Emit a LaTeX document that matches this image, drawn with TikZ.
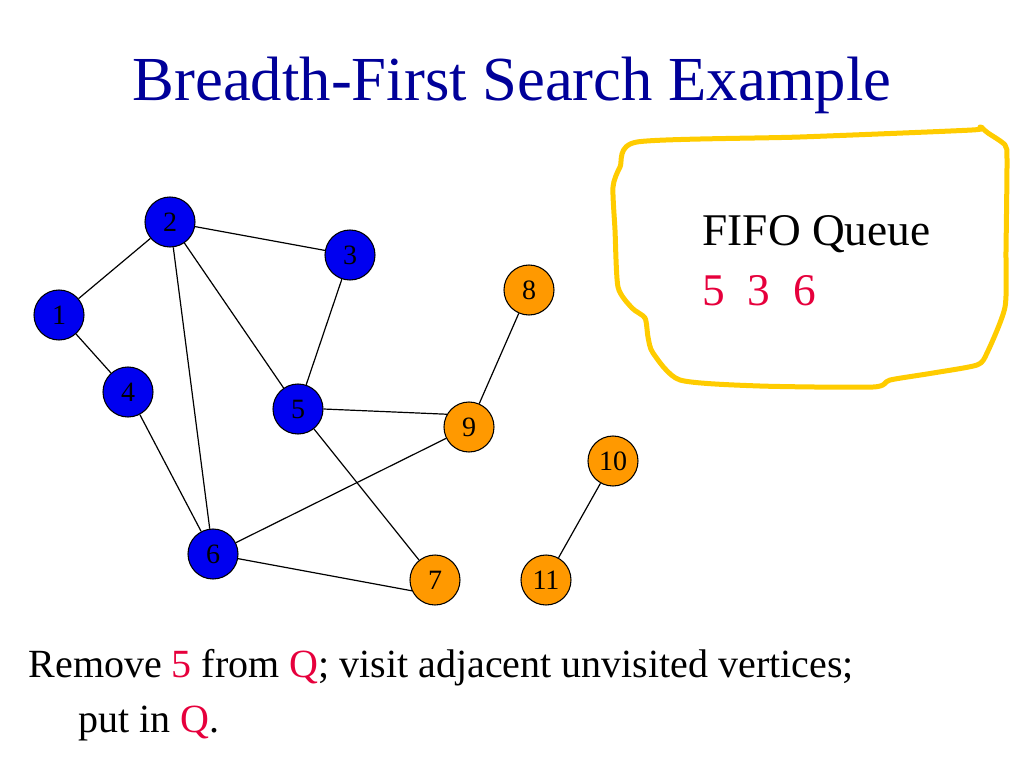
\documentclass[tikz,border=0pt]{standalone}
\usepackage{fontspec}
\setmainfont{Liberation Serif}
\definecolor{titleblue}{RGB}{0,0,153}
\definecolor{vblue}{RGB}{0,0,240}
\definecolor{vorange}{RGB}{255,153,0}
\definecolor{qred}{RGB}{230,0,60}
\definecolor{qyellow}{RGB}{255,204,0}
\begin{document}
\begin{tikzpicture}[x=0.75pt,y=-0.75pt,
  bnode/.style={circle, draw=black, line width=0.8pt, fill=vblue, minimum size=37.5pt, inner sep=0pt, font=\fontsize{21}{21}\selectfont},
  onode/.style={circle, draw=black, line width=0.8pt, fill=vorange, minimum size=37.5pt, inner sep=0pt, font=\fontsize{21}{21}\selectfont},
  every path/.append style={line width=0.9pt}]
\useasboundingbox (0,0) rectangle (1024,768);
\node[anchor=base, text=titleblue, font=\fontsize{47}{47}\selectfont] (title) at (512,100){Breadth-First Search Example};
\node[bnode] (v1) at (59,315){1};
\node[bnode] (v2) at (170,222){2};
\node[bnode] (v3) at (350,255){3};
\node[bnode] (v4) at (128,392){4};
\node[bnode] (v5) at (298,409){5};
\node[bnode] (v6) at (213,554){6};
\node[onode] (v7) at (435,580){7};
\node[onode] (v8) at (529,290){8};
\node[onode] (v9) at (469,427){9};
\node[onode] (v10) at (613,461){10};
\node[onode] (v11) at (546,580){11};
\draw[](v1) -- (v2);
\draw[](v1) -- (v4);
\draw[](v2) -- (v3);
\draw[](v2) -- (v5);
\draw[](v2) -- (v6);
\draw[](v3) -- (v5);
\draw[](v4) -- (v6);
\draw[](v5.east) -- (v9.150);
\draw[](v5) -- (v7);
\draw[](v6) -- (v9);
\draw[](v6) -- (v7.205);
\draw[](v8) -- (v9);
\draw[](v10) -- (v11);
\draw[qyellow, line width=3.75pt, line join=round] plot[smooth cycle, tension=0.4] coordinates {
  (637,142) (800,137) (972,130) (980,127) (988,133) (1005,145) (1007,160)
  (1006,250) (1005,307) (987,353) (977,365) (933,373) (890,380) (873,387)
  (760,386) (680,380) (653,353) (648,337) (645,318) (632,308) (618,287)
  (615,230) (613,187) (620,167)};
\node[anchor=base west, inner sep=0pt, font=\fontsize{34}{34}\selectfont] (fifo) at (702,245){FIFO Queue};
\node[anchor=base west, inner sep=0pt, text=qred, font=\fontsize{34}{34}\selectfont] (queue) at (702,305){5~~3~~6};
\node[anchor=base west, inner sep=0pt, font=\fontsize{30}{30}\selectfont] (line1) at (28,677){Remove \textcolor{qred}{5} from \textcolor{qred}{Q}; visit adjacent unvisited vertices;};
\node[anchor=base west, inner sep=0pt, font=\fontsize{30}{30}\selectfont] (line2) at (78,732){put in \textcolor{qred}{Q}.};
\end{tikzpicture}
\end{document}
